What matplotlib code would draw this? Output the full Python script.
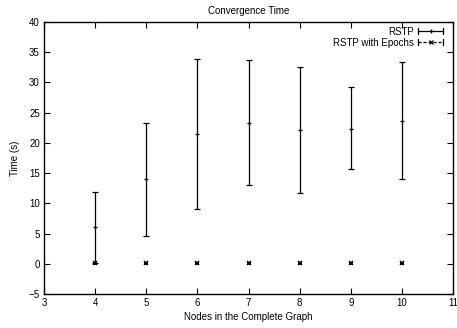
import matplotlib
matplotlib.use("Agg")
import matplotlib.pyplot as plt
from matplotlib.lines import Line2D
from matplotlib.legend_handler import HandlerLine2D

plt.rcParams["font.family"] = ["Liberation Sans", "DejaVu Sans"]
plt.rcParams["font.size"] = 7

nodes = [4, 5, 6, 7, 8, 9, 10]
rstp_mean = [6.0, 14.0, 21.4, 23.3, 22.1, 22.3, 23.6]
rstp_low = [0.1, 4.6, 9.0, 13.0, 11.7, 15.6, 14.0]
rstp_high = [11.8, 23.3, 33.9, 33.7, 32.6, 29.2, 33.3]
epoch_mean = [0.1, 0.1, 0.1, 0.1, 0.1, 0.1, 0.1]
epoch_low = [0.0, 0.0, 0.0, 0.0, 0.0, 0.0, 0.0]
epoch_high = [0.2, 0.2, 0.2, 0.2, 0.2, 0.2, 0.2]


class CapHandler(HandlerLine2D):
    # gnuplot style legend sample: line with end caps and marker in the middle
    def create_artists(self, legend, orig_handle, xdescent, ydescent,
                       width, height, fontsize, trans):
        y = height / 2 - ydescent
        x0, x1 = -xdescent, width - xdescent
        line = Line2D([x0, x1], [y, y], color="black", lw=0.9)
        if orig_handle.get_linestyle() == "--":
            line.set_dashes((2.5, 1.5))
        c0 = Line2D([x0, x0], [y - 2.0, y + 2.0], color="black", lw=0.9)
        c1 = Line2D([x1, x1], [y - 2.0, y + 2.0], color="black", lw=0.9)
        mk = Line2D([(x0 + x1) / 2], [y], color="black", lw=0,
                    marker=orig_handle.get_marker(), markersize=3.2, mew=0.9)
        arts = [line, c0, c1, mk]
        for a in arts:
            a.set_transform(trans)
        return arts


fig = plt.figure(figsize=(4.57, 3.28), dpi=100)
ax = fig.add_axes([0.0963, 0.1037, 0.895, 0.8293])

def yerr(mean, low, high):
    return [[m - l for m, l in zip(mean, low)], [h - m for m, h in zip(mean, high)]]

ax.errorbar(nodes, rstp_mean, yerr=yerr(rstp_mean, rstp_low, rstp_high),
            fmt="+", color="black", ecolor="black", elinewidth=0.9,
            capsize=2.0, capthick=0.9, markersize=3.5, mew=0.9)
ax.errorbar(nodes, epoch_mean, yerr=yerr(epoch_mean, epoch_low, epoch_high),
            fmt="x", color="black", ecolor="black", elinewidth=0.9,
            capsize=1.3, capthick=0.9, markersize=3.0, mew=1.1)

ax.set_xlim(3, 11)
ax.set_ylim(-5, 40)
ax.set_xticks(range(3, 12))
ax.set_yticks(range(-5, 41, 5))
ax.tick_params(direction="in", top=True, right=True, length=4, width=0.8, pad=3)
for s in ax.spines.values():
    s.set_linewidth(1.0)

ax.set_title("Convergence Time", fontsize=7, pad=6)
ax.set_xlabel("Nodes in the Complete Graph", labelpad=3)
ax.set_ylabel("Time (s)", labelpad=6)

h1 = Line2D([], [], color="black", linestyle="-", marker="+")
h2 = Line2D([], [], color="black", linestyle="--", marker="x")
ax.legend([h1, h2], ["RSTP", "RSTP with Epochs"], loc="upper right",
          bbox_to_anchor=(0.976, 0.983), frameon=False, markerfirst=False,
          handlelength=2.6, handletextpad=0.4, labelspacing=0.1,
          borderaxespad=0, borderpad=0,
          handler_map={Line2D: CapHandler()})

fig.savefig("out.png", dpi=100)
